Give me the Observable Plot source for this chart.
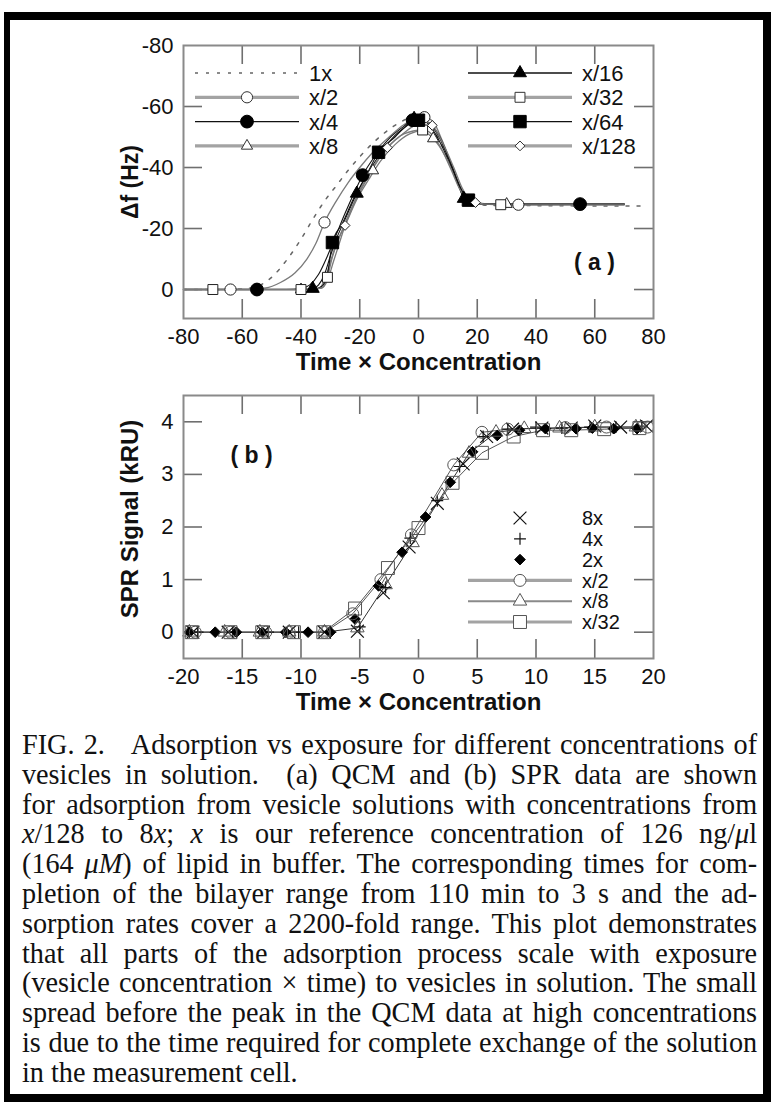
<!DOCTYPE html>
<html><head><meta charset="utf-8">
<script src="https://cdn.jsdelivr.net/npm/d3@7"></script>
<script src="https://cdn.jsdelivr.net/npm/@observablehq/plot@0.6"></script>
<style>
html,body{margin:0;padding:0;background:#fff;}
#page{position:relative;width:773px;height:1104px;overflow:hidden;background:#fff;}
#box{position:absolute;left:4px;top:12px;width:753px;height:1074px;border-style:solid;border-color:#000;border-width:8px 8px 8px 6px;}
#a{position:absolute;left:0;top:0;}
#b{position:absolute;left:0;top:380px;}
#cap{position:absolute;left:22px;top:729px;width:782px;transform:scaleX(0.94);transform-origin:0 0;font-family:"Liberation Serif","Times New Roman",serif;font-size:30px;line-height:29.8px;color:#111;}
#cap div{text-align:justify;text-align-last:justify;}
#cap div.last{text-align:left;text-align-last:left;}
#cap i{font-style:italic;}
</style>
</head><body>
<div id="page">
  <div id="box"></div>
  <div id="a"></div>
  <div id="b"></div>
  <div id="cap">
    <div>FIG. 2.&nbsp;&nbsp; Adsorption vs exposure for different concentrations of</div>
    <div>vesicles in solution.&nbsp; (a) QCM and (b) SPR data are shown</div>
    <div>for adsorption from vesicle solutions with concentrations from</div>
    <div><i>x</i>/128 to 8<i>x</i>; <i>x</i> is our reference concentration of 126 ng/<i>μ</i>l</div>
    <div>(164 <i>μM</i>) of lipid in buffer. The corresponding times for com-</div>
    <div>pletion of the bilayer range from 110 min to 3 s and the ad-</div>
    <div>sorption rates cover a 2200-fold range. This plot demonstrates</div>
    <div>that all parts of the adsorption process scale with exposure</div>
    <div>(vesicle concentration × time) to vesicles in solution. The small</div>
    <div>spread before the peak in the QCM data at high concentrations</div>
    <div>is due to the time required for complete exchange of the solution</div>
    <div class="last">in the measurement cell.</div>
  </div>
</div>
<script>
// ---------------- DATA: panel (a) QCM, Δf (Hz) vs Time × Concentration ----------------
const qcmSeries = ["1x","x/2","x/4","x/8","x/16","x/32","x/64","x/128"];
const qcmXTicks = [-80,-60,-40,-20,0,20,40,60,80];
const qcmYTicks = [-80,-60,-40,-20,0];

const qcm1x = [[-80,0],[-70,0],[-60,-0.2],[-55,-1],[-50,-4],[-45,-9.5],[-40,-16.5],[-36,-23],[-32,-29],[-28,-34],[-24,-39],[-20,-43.5],[-15,-48.5],[-10,-52.5],[-5,-55.5],[-2,-56.8],[1,-56.5],[4,-54],[7,-49],[10,-43],[13,-36],[16,-30.5],[19,-28.2],[24,-27.6],[40,-27.5],[60,-27.4],[78,-27.4]];
const qcmX2 = [[-80,0],[-60,0],[-52,-0.5],[-47,-2.3],[-42,-5.5],[-38,-10],[-35,-15],[-32,-22],[-28,-29],[-24,-35],[-20,-40],[-16,-44.5],[-10,-50],[-5,-54],[-1,-56],[2,-56.5],[5,-55],[8,-49],[12,-39],[15,-32],[18,-28.6],[22,-28],[40,-27.8],[70,-27.8]];
const qcmX4 = [[-80,0],[-45,0],[-40,-0.3],[-37,-1.5],[-34,-5],[-31,-11],[-28,-18],[-25,-25],[-22,-31.5],[-19,-37.5],[-15,-43.5],[-10,-49.5],[-5,-53.5],[-2,-55.5],[1,-55.8],[4,-53.5],[8,-47],[12,-38],[15,-31],[18,-28.5],[24,-28],[55,-28],[70,-28]];
const qcmX8 = [[-80,0],[-40,0],[-34,-0.3],[-32,-3],[-30,-9],[-28,-15],[-25,-21],[-21,-29.5],[-17,-36],[-13,-42],[-8,-47.5],[-3,-51],[1,-52],[5,-49.5],[9,-44],[13,-36],[16,-30.5],[19,-28.5],[24,-28],[30,-28],[70,-28]];
const qcmX16 = [[-80,0],[-40,0],[-36,-0.3],[-34,-1.5],[-32,-5],[-30,-11],[-28,-16.5],[-25,-23],[-21,-31.5],[-17,-38.5],[-13,-44.5],[-8,-50.5],[-3,-54.5],[-1.5,-56],[1,-55.8],[3,-55],[7,-50],[11,-41],[14,-33.5],[15.4,-29.8],[19,-28.3],[30,-28],[70,-28]];
const qcmX32 = [[-80,0],[-70,0],[-40,0],[-33,-0.5],[-31,-4],[-29.5,-10],[-27,-17],[-24,-24],[-20,-32.5],[-16,-39.5],[-11,-46],[-5,-51],[1.4,-52.3],[3,-52],[7,-47.5],[11,-39.5],[14,-33],[17,-29.5],[20,-28.4],[28,-27.8],[70,-27.8]];
const qcmX64 = [[-80,0],[-36,0],[-33,-1],[-31,-5],[-29.3,-15.4],[-26,-21.5],[-22,-30],[-18,-37],[-13.6,-45],[-8,-50],[-3,-54.5],[0,-55.5],[3,-55],[7,-50.5],[11,-41.5],[14,-34],[17,-29.3],[20,-28.3],[30,-28],[70,-28]];
const qcmX128 = [[-80,0],[-40,0],[-33,-0.5],[-31,-3],[-29,-9],[-27,-15],[-25,-21],[-22,-28],[-18,-35.5],[-14,-42],[-10.6,-46.5],[-6,-50.5],[-1,-54],[2,-55],[4.7,-53.8],[8,-48.5],[12,-40],[15,-33],[17.5,-29.5],[19.4,-28.5],[25,-28],[70,-28]];

const qcmX2Marks = [[-64,0],[-32,-22],[2,-56.5],[34,-27.8]];
const qcmX4Marks = [[-55,0],[-19,-37.5],[-2,-55.5],[55,-28]];
const qcmX8Marks = [[-40,0],[-15.5,-39],[5,-49.5],[30,-28]];
const qcmX16Marks = [[-36,-0.3],[-21,-31.5],[-1.5,-56],[15.4,-29.8]];
const qcmX32Marks = [[-70,0],[-40,0],[-31,-4],[1.4,-52.3],[28,-27.8]];
const qcmX64Marks = [[-29.3,-15.4],[-13.6,-45],[0,-55.5],[17,-29.3]];
const qcmX128Marks = [[-25,-21],[-10.6,-46.5],[4.7,-53.8],[19.4,-28.5]];

// ---------------- DATA: panel (b) SPR signal (kRU) vs Time × Concentration ----------------
const sprSeries = ["8x","4x","2x","x/2","x/8","x/32"];
const sprXTicks = [-20,-15,-10,-5,0,5,10,15,20];
const sprYTicks = [0,1,2,3,4];

const spr8x = [[-19.2,0],[-16.2,0],[-13.2,0],[-11,0],[-8,0],[-5.2,0.02],[-3,0.75],[-0.8,1.62],[1.6,2.45],[3.8,3.2],[5.8,3.72],[8,3.86],[10.5,3.88],[13,3.88],[15,3.92],[17.2,3.9],[19.4,3.92]];
const spr4x = [[-18.8,0],[-15.8,0],[-12.8,0],[-10.2,0],[-7.5,0],[-5,0.1],[-2.8,0.85],[-0.7,1.79],[1.6,2.5],[3.5,3.15],[5.5,3.72],[7.6,3.86],[10,3.9],[12.2,3.88],[14.6,3.9],[16.8,3.9],[19,3.92]];
const spr2x = [[-19.5,0],[-17.3,0],[-15.5,0],[-13.3,0],[-11.3,0],[-9.4,0],[-7.5,0],[-5.4,0.25],[-3.4,0.88],[-1.4,1.52],[0.6,2.19],[2.7,2.85],[4.6,3.43],[6.7,3.74],[8.6,3.84],[10.8,3.87],[13.4,3.87],[14.8,3.88],[16.6,3.87],[18.6,3.87]];
const sprX2 = [[-19,0],[-16,0],[-13,0],[-11,0],[-8,0],[-5.6,0.35],[-3.2,1.0],[-0.6,1.85],[3,3.18],[5.4,3.8],[7.6,3.86],[12.5,3.89],[16,3.9],[19.5,3.9]];
const sprX8 = [[-19.5,0],[-16.5,0],[-13.5,0],[-11,0],[-8,0],[-5.2,0.08],[-2.8,0.9],[-0.5,1.7],[2,2.6],[4.3,3.4],[6.6,3.8],[9,3.87],[12,3.88],[15,3.9],[18.5,3.9]];
const sprX32 = [[-19.3,0],[-16,0],[-13.3,0],[-10.6,0],[-8.1,0],[-5.4,0.45],[-2.6,1.22],[0,1.98],[2.9,2.84],[5.4,3.41],[8.1,3.72],[10.6,3.84],[13,3.84],[15.8,3.86],[18.8,3.88]];

// ---------------- tables built from the arrays ----------------
const rows = (name, pts) => pts.map(([x, y]) => ({series: name, x, y}));
const qcmLines = {"1x": qcm1x, "x/2": qcmX2, "x/4": qcmX4, "x/8": qcmX8, "x/16": qcmX16, "x/32": qcmX32, "x/64": qcmX64, "x/128": qcmX128};
const qcmMarks = {"x/2": qcmX2Marks, "x/4": qcmX4Marks, "x/8": qcmX8Marks, "x/16": qcmX16Marks, "x/32": qcmX32Marks, "x/64": qcmX64Marks, "x/128": qcmX128Marks};
const sprPts = {"8x": spr8x, "4x": spr4x, "2x": spr2x, "x/2": sprX2, "x/8": sprX8, "x/32": sprX32};

// ---------------- styles ----------------
const GRAY = {line: "#7a7a7a", lw: 1.3, leg: "#a3a3a3", legW: 3.2};
const BLACK = {line: "#111", lw: 1.1, leg: "#111", legW: 1.4};
const qcmStyle = {
  "1x":    {line: "#666", lw: 1.5, dash: "3,8", leg: "#666", legW: 1.5, sym: null},
  "x/2":   {...GRAY, sym: "circle", fill: "white", r: 5.6},
  "x/4":   {...BLACK, sym: "circle", fill: "#000", r: 6.4},
  "x/8":   {...GRAY, sym: "triangle", fill: "white", r: 4.2},
  "x/16":  {...BLACK, sym: "triangle", fill: "#000", r: 4.8},
  "x/32":  {...GRAY, sym: "square", fill: "white", r: 5.6},
  "x/64":  {...BLACK, sym: "square", fill: "#000", r: 7},
  "x/128": {...GRAY, sym: "diamond2", fill: "white", r: 4.4}
};
const sprStyle = {
  "8x":   {sym: "times", fill: "none", stroke: "#111", r: 5.9, line: null},
  "4x":   {sym: "plus", fill: "none", stroke: "#111", r: 3.9, line: null},
  "2x":   {sym: "diamond2", fill: "#000", stroke: "#000", r: 4.8, line: null},
  "x/2":  {sym: "circle", fill: "none", stroke: "#555", r: 6, line: "#555", leg: "#a3a3a3", legW: 3.2},
  "x/8":  {sym: "triangle", fill: "none", stroke: "#555", r: 5, line: "#333", leg: "#8a8a8a", legW: 2},
  "x/32": {sym: "square", fill: "none", stroke: "#555", r: 7.3, line: "#555", leg: "#a3a3a3", legW: 3.2}
};

const W = 773, ML = 183, MR = 120;
const FONT = "'Liberation Sans', Arial, Helvetica, sans-serif";
const TICK = 19;
const d3sym = {circle: d3.symbolCircle, triangle: d3.symbolTriangle, square: d3.symbolSquare, diamond2: d3.symbolDiamond2, times: d3.symbolTimes, plus: d3.symbolPlus};

function frameTicks(xt, yt, fw, fh) {
  const xi = xt.slice(1, -1), yi = yt;
  return [
    Plot.ruleX(xi, {x: d => d, insetTop: fh - TICK, stroke: "#6f6f6f", strokeWidth: 1.6}),
    Plot.ruleX(xi, {x: d => d, insetBottom: fh - TICK, stroke: "#6f6f6f", strokeWidth: 1.6}),
    Plot.ruleY(yi, {y: d => d, insetRight: fw - TICK, stroke: "#6f6f6f", strokeWidth: 1.6}),
    Plot.ruleY(yi, {y: d => d, insetLeft: fw - TICK, stroke: "#6f6f6f", strokeWidth: 1.6})
  ];
}

function legend(svg, items, x0, y0, dy, withLine, fs) {
  const g = d3.select(svg).append("g").attr("text-anchor", "start");
  items.forEach((it, i) => {
    const y = y0 + i * dy;
    const s = it.style;
    if (withLine(it)) {
      g.append("line").attr("x1", x0 - 52).attr("x2", x0 + 52).attr("y1", y).attr("y2", y)
        .attr("stroke", s.leg).attr("stroke-width", s.legW).attr("stroke-dasharray", s.dash || null);
    }
    if (s.sym) {
      const isStroke = s.sym === "times" || s.sym === "plus";
      g.append("path").attr("transform", `translate(${x0},${y})`)
        .attr("d", d3.symbol(d3sym[s.sym], Math.PI * s.r * s.r)())
        .attr("fill", s.fill === "none" ? "white" : s.fill)
        .attr("stroke", s.stroke || (s.fill === "#000" ? "#000" : "#333"))
        .attr("stroke-width", isStroke ? 1.2 : 1);
    }
    g.append("text").attr("x", x0 + 62).attr("y", y).attr("dy", "0.36em").attr("text-anchor", "start")
      .attr("font-size", fs).attr("font-family", FONT).attr("fill", "#111").text(it.name);
  });
}

// ---------------- panel (a) ----------------
{
  const top = 45, fh = 273, H = 380, fw = W - ML - MR;
  const marks = [...frameTicks(qcmXTicks, qcmYTicks.slice(1), fw, fh)];
  for (const s of qcmSeries) {
    const st = qcmStyle[s];
    marks.push(Plot.line(rows(s, qcmLines[s]), {x: "x", y: "y", stroke: st.line, strokeWidth: st.lw, strokeDasharray: st.dash, curve: "monotone-x"}));
  }
  for (const s of qcmSeries) {
    const st = qcmStyle[s];
    if (!st.sym) continue;
    marks.push(Plot.dot(rows(s, qcmMarks[s]), {x: "x", y: "y", symbol: st.sym, r: st.r, fill: st.fill, stroke: st.fill === "#000" ? "#000" : "#222", strokeWidth: 1}));
  }
  marks.push(
    Plot.frame({stroke: "#8a8a8a", strokeWidth: 2}),
    Plot.axisX(qcmXTicks, {tickSize: 0, tickPadding: 10, tickFormat: d => String(d), fontSize: 22, label: null}),
    Plot.axisY(qcmYTicks, {tickSize: 0, tickPadding: 10, tickFormat: d => String(d), fontSize: 22, label: null}),
    Plot.text(["Time × Concentration"], {frameAnchor: "bottom", dy: 44, textAnchor: "middle", lineAnchor: "middle", fontWeight: "bold", fontSize: 24}),
    Plot.text(["Δf (Hz)"], {frameAnchor: "left", dx: -53, rotate: -90, textAnchor: "middle", lineAnchor: "middle", fontWeight: "bold", fontSize: 23}),
    Plot.text(["( a )"], {frameAnchor: "bottom-right", dx: -59, dy: -56, textAnchor: "middle", lineAnchor: "middle", fontWeight: "bold", fontSize: 23})
  );
  const svg = Plot.plot({
    width: W, height: H, marginLeft: ML, marginRight: MR, marginTop: top, marginBottom: H - top - fh,
    x: {domain: [-80, 80]}, y: {domain: [9.5, -80]},
    style: {fontFamily: FONT, fontSize: "22px", color: "#111", background: "transparent", overflow: "visible"},
    marks
  });
  const items = qcmSeries.map(s => ({name: s, style: qcmStyle[s]}));
  legend(svg, items.slice(0, 4), 247, 73, 24.3, () => true, 22);
  legend(svg, items.slice(4), 520, 73, 24.3, () => true, 22);
  document.getElementById("a").appendChild(svg);
}

// ---------------- panel (b) ----------------
{
  const topOff = 380;
  const top = 15, fh = 263, H = 340, fw = W - ML - MR;
  const marks = [...frameTicks(sprXTicks, sprYTicks, fw, fh)];
  for (const s of sprSeries) {
    const st = sprStyle[s];
    if (st.line) marks.push(Plot.line(rows(s, sprPts[s]), {x: "x", y: "y", stroke: st.line, strokeWidth: 1}));
  }
  for (const s of sprSeries) {
    const st = sprStyle[s];
    marks.push(Plot.dot(rows(s, sprPts[s]), {x: "x", y: "y", symbol: st.sym, r: st.r, fill: st.fill, stroke: st.stroke, strokeWidth: st.fill === "none" && (st.sym === "times" || st.sym === "plus") ? 1.2 : 1}));
  }
  marks.push(
    Plot.frame({stroke: "#8a8a8a", strokeWidth: 2}),
    Plot.axisX(sprXTicks, {tickSize: 0, tickPadding: 10, tickFormat: d => String(d), fontSize: 22, label: null}),
    Plot.axisY(sprYTicks, {tickSize: 0, tickPadding: 10, tickFormat: d => String(d), fontSize: 22, label: null}),
    Plot.text(["Time × Concentration"], {frameAnchor: "bottom", dy: 44, textAnchor: "middle", lineAnchor: "middle", fontWeight: "bold", fontSize: 24}),
    Plot.text(["SPR Signal (kRU)"], {frameAnchor: "left", dx: -53, dy: -8, rotate: -90, textAnchor: "middle", lineAnchor: "middle", fontWeight: "bold", fontSize: 24}),
    Plot.text(["( b )"], {frameAnchor: "top-left", dx: 68, dy: 60, textAnchor: "middle", lineAnchor: "middle", fontWeight: "bold", fontSize: 23})
  );
  const svg = Plot.plot({
    width: W, height: H, marginLeft: ML, marginRight: MR, marginTop: top, marginBottom: H - top - fh,
    x: {domain: [-20, 20]}, y: {domain: [-0.5, 4.5]},
    style: {fontFamily: FONT, fontSize: "22px", color: "#111", background: "transparent", overflow: "visible"},
    marks
  });
  const items = sprSeries.map(s => ({name: s, style: sprStyle[s]}));
  legend(svg, items, 520, 518 - topOff, 20.8, it => !!it.style.line, 20);
  document.getElementById("b").appendChild(svg);
}
</script>
</body></html>
